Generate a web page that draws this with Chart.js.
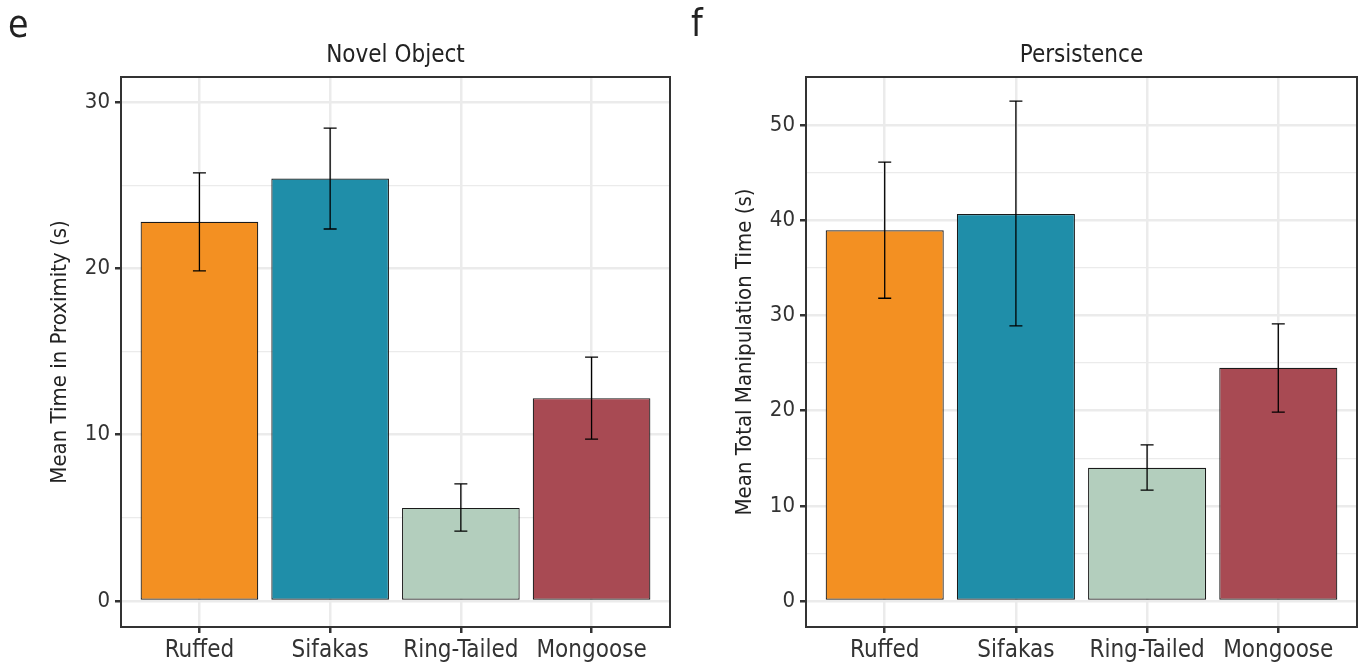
<!DOCTYPE html>
<html><head><meta charset="utf-8">
<script src="https://cdn.jsdelivr.net/npm/chart.js@4.4.1/dist/chart.umd.min.js"></script>
<style>
html,body{margin:0;padding:0;background:#fff;}
body{width:1359px;height:665px;position:relative;overflow:hidden;font-family:'Liberation Sans Narrow','DejaVu Sans Condensed','Roboto Condensed',sans-serif;}
.panel{position:absolute;top:0;height:665px;}
.letter{position:absolute;font-size:37px;line-height:1;color:#222;}
</style></head><body>
<div class="panel" style="left:0;width:680px"><canvas id="c1"></canvas></div>
<div class="panel" style="left:679px;width:680px"><canvas id="c2"></canvas></div>
<div class="letter" style="left:8px;top:6px">e</div>
<div class="letter" style="left:691px;top:5px">f</div>
<script>
const categories = ['Ruffed', 'Sifakas', 'Ring-Tailed', 'Mongoose'];
const barColors = ['#f39022', '#1f8ea9', '#b3cebd', '#a84a53'];

const novelMeans = [22.8, 25.4, 5.6, 12.2];
const novelLower = [19.85, 22.37, 4.2, 9.74];
const novelUpper = [25.74, 28.44, 7.04, 14.67];
const novelTicks = [0, 5, 10, 15, 20, 25, 30];

const persistMeans = [38.95, 40.65, 14.0, 24.5];
const persistLower = [31.8, 28.9, 11.65, 19.85];
const persistUpper = [46.1, 52.5, 16.4, 29.1];
const persistTicks = [0, 5, 10, 15, 20, 25, 30, 35, 40, 45, 50];

const FONT = "'Liberation Sans Narrow','DejaVu Sans Condensed','Roboto Condensed',sans-serif";

const errorBars = {
  id: 'errorBars',
  afterDatasetsDraw(chart, args, opts) {
    const {ctx, scales: {x, y}} = chart;
    ctx.save();
    ctx.strokeStyle = '#000';
    ctx.lineWidth = 1.3;
    opts.lower.forEach((lo, i) => {
      const px = x.getPixelForValue(i + 1);
      const top = y.getPixelForValue(opts.upper[i]);
      const bot = y.getPixelForValue(lo);
      ctx.beginPath();
      ctx.moveTo(px, top); ctx.lineTo(px, bot);
      ctx.moveTo(px - 6.5, top); ctx.lineTo(px + 6.5, top);
      ctx.moveTo(px - 6.5, bot); ctx.lineTo(px + 6.5, bot);
      ctx.stroke();
    });
    ctx.restore();
  }
};

const panelBox = {
  id: 'panelBox',
  afterDraw(chart) {
    const {ctx, chartArea: a} = chart;
    ctx.save();
    ctx.strokeStyle = '#333';
    ctx.lineWidth = 2;
    ctx.strokeRect(a.left, a.top, a.right - a.left, a.bottom - a.top);
    ctx.restore();
  }
};

function makeChart(id, means, lower, upper, ticks, ymin, ymax, title, ytitle, yWidth, padRight, yTitlePad) {
  new Chart(document.getElementById(id), {
    type: 'bar',
    data: {
      datasets: [{
        data: means.map((v, i) => ({x: i + 1, y: v})),
        backgroundColor: barColors,
        borderColor: '#1a1a1a',
        borderWidth: 1.2,
        borderSkipped: false,
        categoryPercentage: 1,
        barPercentage: 0.9
      }]
    },
    options: {
      responsive: true,
      maintainAspectRatio: false,
      animation: false,
      layout: {padding: {left: 0, right: padRight, top: 0, bottom: 0}},
      plugins: {
        legend: {display: false},
        tooltip: {enabled: false},
        title: {
          display: true, text: title, fullSize: false, color: '#222',
          font: {family: FONT, size: 24, weight: 'normal', lineHeight: 1.2},
          padding: {top: 41, bottom: 7.2}
        },
        errorBars: {lower: lower, upper: upper}
      },
      scales: {
        x: {
          type: 'linear', min: 0.4, max: 4.6, offset: false,
          afterBuildTicks: s => { s.ticks = categories.map((c, i) => ({value: i + 1})); },
          afterFit: s => { s.height = 38; },
          ticks: {
            autoSkip: false, maxRotation: 0, color: '#333', padding: 3,
            font: {family: FONT, size: 24},
            callback: v => categories[Math.round(v) - 1]
          },
          grid: {offset: false, color: '#ebebeb', lineWidth: 2.5, tickColor: '#333', tickLength: 6},
          border: {display: false}
        },
        y: {
          type: 'linear', min: ymin, max: ymax,
          afterBuildTicks: s => { s.ticks = ticks.map(v => ({value: v})); },
          afterFit: s => { s.width = yWidth; },
          ticks: {
            color: '#333', padding: 5,
            font: {family: FONT, size: 22},
            callback: v => (v % 10 === 0 ? String(v) : '')
          },
          grid: {
            color: '#ebebeb',
            lineWidth: c => (c.tick && c.tick.value % 10 === 0 ? 2.5 : 1.2),
            tickColor: c => (c.tick && c.tick.value % 10 === 0 ? '#333' : 'rgba(0,0,0,0)'),
            tickLength: 6
          },
          border: {display: false},
          title: {
            display: true, text: ytitle, color: '#222',
            font: {family: FONT, size: 22, lineHeight: 1.2},
            padding: {top: yTitlePad, bottom: 0}
          }
        }
      }
    },
    plugins: [errorBars, panelBox]
  });
}

makeChart('c1', novelMeans, novelLower, novelUpper, novelTicks, -1.56, 31.51,
  'Novel Object', 'Mean Time in Proximity (s)', 121, 10, 60 - 13.2);
makeChart('c2', persistMeans, persistLower, persistUpper, persistTicks, -2.73, 55.04,
  'Persistence', 'Mean Total Manipulation Time (s)', 127, 2, 66 - 13.2);
</script>
</body></html>
